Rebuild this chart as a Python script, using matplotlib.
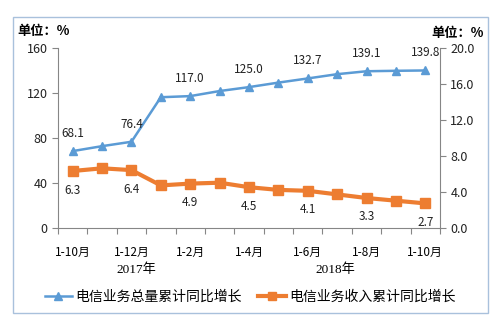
import matplotlib
matplotlib.use('Agg')
import matplotlib.pyplot as plt
from matplotlib.patches import Rectangle
from matplotlib.lines import Line2D

plt.rcParams['font.family'] = ['Noto Sans CJK SC', 'DejaVu Sans']

# 月份（2017年1-10月至2018年1-10月）
months = ['1-10月', '1-11月', '1-12月', '1月', '1-2月', '1-3月', '1-4月',
          '1-5月', '1-6月', '1-7月', '1-8月', '1-9月', '1-10月']
tick_labels = ['1-10月', '', '1-12月', '', '1-2月', '', '1-4月',
               '', '1-6月', '', '1-8月', '', '1-10月']
volume_growth = [68.1, 72.5, 76.4, 116.0, 117.0, 121.5, 125.0,
                 129.0, 132.7, 136.5, 139.1, 139.5, 139.8]
revenue_growth = [6.3, 6.6, 6.4, 4.7, 4.9, 5.0, 4.5,
                  4.2, 4.1, 3.7, 3.3, 3.0, 2.7]
labeled = [0, 2, 4, 6, 8, 10, 12]

blue = '#5B9BD5'
orange = '#ED7D31'
axis_gray = '#868686'

fig = plt.figure(figsize=(5.02, 3.27), dpi=100)
fig.patch.set_facecolor('white')

# 外框
fig.add_artist(Rectangle((13 / 502, 1 - 313 / 327), 475 / 502, 296 / 327,
                         transform=fig.transFigure, fill=False,
                         edgecolor='#A9C1DC', linewidth=1.0))

ax = fig.add_axes([0.1155, 0.3037, 0.761, 0.5503])
ax2 = ax.twinx()

x = list(range(len(months)))
ax.plot(x, volume_growth, color=blue, linewidth=1.8, marker='^',
        markersize=6, zorder=3)
ax2.plot(x, revenue_growth, color=orange, linewidth=3, marker='s',
         markersize=7, zorder=3)

ax.set_xlim(-0.5, 12.5)
ax.set_ylim(0, 160)
ax.set_yticks([0, 40, 80, 120, 160])
ax2.set_ylim(0, 20)
ax2.set_yticks([0, 4, 8, 12, 16, 20])
ax2.set_yticklabels(['%.1f' % v for v in [0, 4, 8, 12, 16, 20]])

ax.set_xticks([i - 0.5 for i in range(14)])
ax.set_xticklabels([])
ax.set_xticks(x, minor=True)
ax.set_xticklabels(tick_labels, minor=True, fontsize=8.5)
ax.tick_params(axis='x', which='minor', length=0, pad=13)
ax.tick_params(axis='x', which='major', length=4, color=axis_gray)

for a in (ax, ax2):
    for s in a.spines.values():
        s.set_visible(False)
    a.tick_params(axis='y', labelsize=9, color=axis_gray, length=4,
                  labelcolor='#222222')
ax.spines['left'].set_visible(True)
ax.spines['left'].set_color(axis_gray)
ax.spines['bottom'].set_visible(True)
ax.spines['bottom'].set_color(axis_gray)
ax2.spines['right'].set_visible(True)
ax2.spines['right'].set_color(axis_gray)

for i in labeled:
    ax.annotate('%.1f' % volume_growth[i], (i, volume_growth[i]),
                xytext=(0, 8), textcoords='offset points', ha='center',
                va='bottom', fontsize=8.5, color='#222222')
    ax2.annotate('%.1f' % revenue_growth[i], (i, revenue_growth[i]),
                 xytext=(0, -9), textcoords='offset points', ha='center',
                 va='top', fontsize=8.5, color='#222222')

fig.text(17 / 502, 1 - 31 / 327, '单位：%', fontsize=9.5, fontweight='bold',
         va='center', ha='left')
fig.text(484 / 502, 1 - 33 / 327, '单位：%', fontsize=9.5, fontweight='bold',
         va='center', ha='right')

ax.text(2.17, -0.235, '2017年', transform=ax.get_xaxis_transform(),
        ha='center', va='center', fontsize=9.5,
        family=['Liberation Serif', 'Noto Sans CJK SC'])
ax.text(8.93, -0.235, '2018年', transform=ax.get_xaxis_transform(),
        ha='center', va='center', fontsize=9.5,
        family=['Liberation Serif', 'Noto Sans CJK SC'])

handles = [Line2D([], [], color=blue, linewidth=1.8, marker='^', markersize=6),
           Line2D([], [], color=orange, linewidth=3, marker='s', markersize=6)]
fig.legend(handles, ['电信业务总量累计同比增长', '电信业务收入累计同比增长'],
           loc='center', bbox_to_anchor=(0.498, 1 - 297 / 327), ncol=2,
           frameon=False, fontsize=10, handlelength=2.0, handletextpad=0.2,
           columnspacing=1.2)

fig.savefig('out.png', dpi=100)
